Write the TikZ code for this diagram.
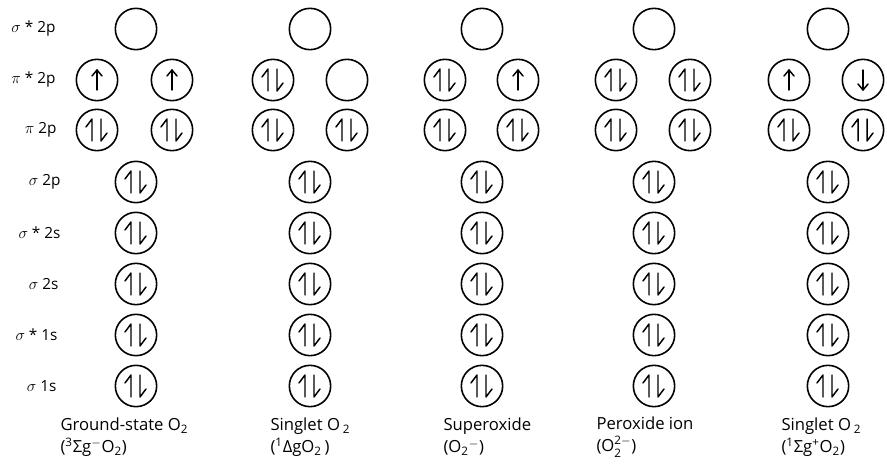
\documentclass[tikz,border=0pt]{standalone}
\usepackage{amsmath}
\usepackage{fontspec}
\setmainfont{Open Sans}

\tikzset{every picture/.style={line width=0.75pt}}
\tikzset{
  orb/.style={circle, draw, line width=1.2pt, minimum size=31pt, inner sep=0pt},
  spin/.style={line width=1.1pt, line cap=round, line join=round},
  pairspin/.pic={\draw[spin] (-5,-11) -- (-5,11) -- (-11,3); \draw[spin] (4,11) -- (4,-11) -- (10,-3);},
  upspin/.pic={\draw[spin] (0,-10) -- (0,10); \draw[spin] (-5,4) -- (0,10) -- (5,4);},
  downspin/.pic={\draw[spin] (0,10) -- (0,-10); \draw[spin] (-5,-4) -- (0,-10) -- (5,-4);},
  lvl/.style={anchor=east, inner sep=0.75pt, font=\fontsize{11.5}{13}\selectfont},
  mol/.style={anchor=west, align=left, inner sep=0.75pt, font=\fontsize{12.5}{16.5}\selectfont}
}

\begin{document}
\begin{tikzpicture}[x=0.75pt,y=0.75pt,yscale=-1,xscale=1]
\useasboundingbox (0,0) rectangle (887,470);

% Level labels
\node[lvl] (l-ss2p) at (57,29) {$\sigma$ * 2p};
\node[lvl] (l-ps2p) at (57,80) {$\pi$ * 2p};
\node[lvl] (l-p2p) at (58,130) {$\pi$ 2p};
\node[lvl] (l-s2p) at (62,182) {$\sigma$ 2p};
\node[lvl] (l-ss2s) at (62,233) {$\sigma$ * 2s};
\node[lvl] (l-s2s) at (60,284) {$\sigma$ 2s};
\node[lvl] (l-ss1s) at (59,335) {$\sigma$ * 1s};
\node[lvl] (l-s1s) at (58,386) {$\sigma$ 1s};

%Ground-state O2
\node[orb] (g-ss2p) at (136,29) {};
\node[orb] (g-ps2pa) at (97,80) {}; \pic at (g-ps2pa) {upspin};
\node[orb] (g-ps2pb) at (172,80) {}; \pic at (g-ps2pb) {upspin};
\node[orb] (g-p2pa) at (97,130) {}; \pic at (g-p2pa) {pairspin};
\node[orb] (g-p2pb) at (172,130) {}; \pic at (g-p2pb) {pairspin};
\node[orb] (g-s2p) at (136,182) {}; \pic at (g-s2p) {pairspin};
\node[orb] (g-ss2s) at (136,233) {}; \pic at (g-ss2s) {pairspin};
\node[orb] (g-s2s) at (136,284) {}; \pic at (g-s2s) {pairspin};
\node[orb] (g-ss1s) at (136,335) {}; \pic at (g-ss1s) {pairspin};
\node[orb] (g-s1s) at (136,386) {}; \pic at (g-s1s) {pairspin};

%Singlet O2 (delta)
\node[orb] (d-ss2p) at (310,29) {};
\node[orb] (d-ps2pa) at (273,80) {}; \pic at (d-ps2pa) {pairspin};
\node[orb] (d-ps2pb) at (347,80) {};
\node[orb] (d-p2pa) at (273,130) {}; \pic at (d-p2pa) {pairspin};
\node[orb] (d-p2pb) at (347,130) {}; \pic at (d-p2pb) {pairspin};
\node[orb] (d-s2p) at (310,182) {}; \pic at (d-s2p) {pairspin};
\node[orb] (d-ss2s) at (310,233) {}; \pic at (d-ss2s) {pairspin};
\node[orb] (d-s2s) at (310,284) {}; \pic at (d-s2s) {pairspin};
\node[orb] (d-ss1s) at (310,335) {}; \pic at (d-ss1s) {pairspin};
\node[orb] (d-s1s) at (310,386) {}; \pic at (d-s1s) {pairspin};

%Superoxide
\node[orb] (s-ss2p) at (482,29) {};
\node[orb] (s-ps2pa) at (445,80) {}; \pic at (s-ps2pa) {pairspin};
\node[orb] (s-ps2pb) at (518,80) {}; \pic at (s-ps2pb) {upspin};
\node[orb] (s-p2pa) at (445,130) {}; \pic at (s-p2pa) {pairspin};
\node[orb] (s-p2pb) at (518,130) {}; \pic at (s-p2pb) {pairspin};
\node[orb] (s-s2p) at (482,182) {}; \pic at (s-s2p) {pairspin};
\node[orb] (s-ss2s) at (482,233) {}; \pic at (s-ss2s) {pairspin};
\node[orb] (s-s2s) at (482,284) {}; \pic at (s-s2s) {pairspin};
\node[orb] (s-ss1s) at (482,335) {}; \pic at (s-ss1s) {pairspin};
\node[orb] (s-s1s) at (482,386) {}; \pic at (s-s1s) {pairspin};

%Peroxide ion
\node[orb] (p-ss2p) at (654,29) {};
\node[orb] (p-ps2pa) at (616,80) {}; \pic at (p-ps2pa) {pairspin};
\node[orb] (p-ps2pb) at (690,80) {}; \pic at (p-ps2pb) {pairspin};
\node[orb] (p-p2pa) at (616,130) {}; \pic at (p-p2pa) {pairspin};
\node[orb] (p-p2pb) at (690,130) {}; \pic at (p-p2pb) {pairspin};
\node[orb] (p-s2p) at (654,182) {}; \pic at (p-s2p) {pairspin};
\node[orb] (p-ss2s) at (654,233) {}; \pic at (p-ss2s) {pairspin};
\node[orb] (p-s2s) at (654,284) {}; \pic at (p-s2s) {pairspin};
\node[orb] (p-ss1s) at (654,335) {}; \pic at (p-ss1s) {pairspin};
\node[orb] (p-s1s) at (654,386) {}; \pic at (p-s1s) {pairspin};

%Singlet O2 (sigma)
\node[orb] (x-ss2p) at (828,29) {};
\node[orb] (x-ps2pa) at (789,80) {}; \pic at (x-ps2pa) {upspin};
\node[orb] (x-ps2pb) at (863,80) {}; \pic at (x-ps2pb) {downspin};
\node[orb] (x-p2pa) at (789,130) {}; \pic at (x-p2pa) {pairspin};
\node[orb] (x-p2pb) at (863,130) {}; \pic at (x-p2pb) {pairspin};
\node[orb] (x-s2p) at (828,182) {}; \pic at (x-s2p) {pairspin};
\node[orb] (x-ss2s) at (828,233) {}; \pic at (x-ss2s) {pairspin};
\node[orb] (x-s2s) at (828,284) {}; \pic at (x-s2s) {pairspin};
\node[orb] (x-ss1s) at (828,335) {}; \pic at (x-ss1s) {pairspin};
\node[orb] (x-s1s) at (828,386) {}; \pic at (x-s1s) {pairspin};

% Text Node
\node[mol] (n-g) at (59,437) {Ground-state O\textsubscript{2}\\(\textsuperscript{3}Σg\textsuperscript{$-$}O\textsubscript{2})};
% Text Node
\node[mol] (n-d) at (269,437) {Singlet O\,\textsubscript{2}\\(\textsuperscript{1}ΔgO\textsubscript{2}\,)};
% Text Node
\node[mol] (n-s) at (442,437) {Superoxide\\(O\textsubscript{2}\textsuperscript{$-$})};
% Text Node
\node[mol] (n-p) at (595,437) {Peroxide ion\\(O$_{\text{2}}^{\text{2$-$}}$)};
% Text Node
\node[mol] (n-x) at (780,437) {Singlet O\,\textsubscript{2}\\(\textsuperscript{1}Σg\textsuperscript{+}O\textsubscript{2})};

\end{tikzpicture}
\end{document}
